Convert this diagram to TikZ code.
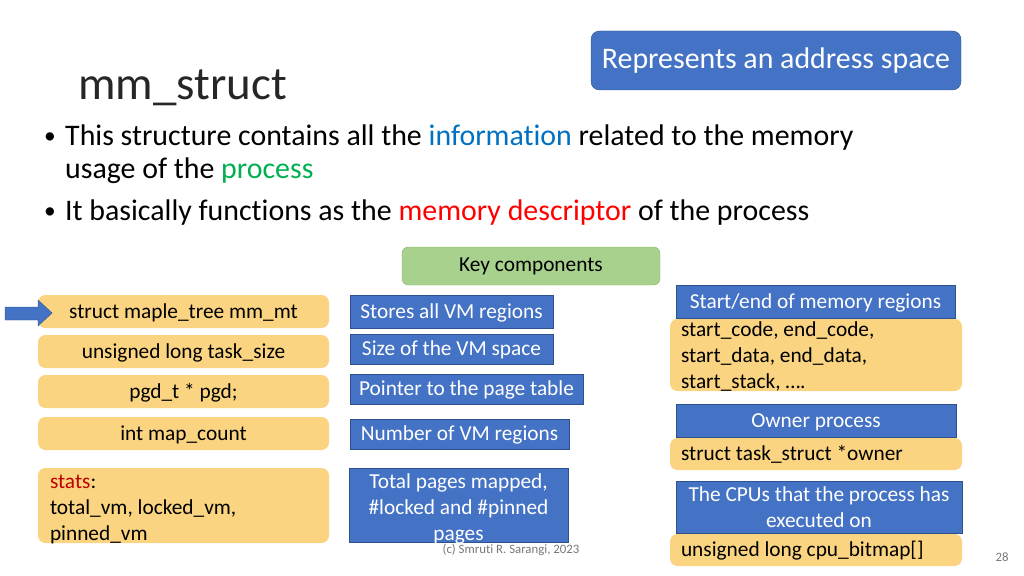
\documentclass[tikz,border=0pt]{standalone}
\usepackage{fontspec}
\setmainfont{Carlito}[Ligatures=NoCommon]
\usepackage{tikz}
\frenchspacing
\definecolor{fieldfill}{RGB}{250,212,128}
\definecolor{noteblue}{RGB}{68,114,196}
\definecolor{noteedge}{RGB}{47,82,143}
\definecolor{keygreen}{RGB}{169,209,142}
\definecolor{keyedge}{RGB}{130,180,100}
\definecolor{infoblue}{RGB}{0,112,192}
\definecolor{procgreen}{RGB}{0,176,80}
\definecolor{statsred}{RGB}{192,0,0}
\definecolor{footgray}{RGB}{120,120,120}

\begin{document}
\begin{tikzpicture}[x=0.9375pt, y=-0.9375pt,
  dims/.style 2 args={minimum width=#1*0.9375pt, minimum height=#2*0.9375pt},
  oneline/.style={text height=16pt, text depth=3.5pt},
  field/.style={fill=fieldfill, rounded corners=7pt, inner sep=0pt, font=\fontsize{20}{24.4}\selectfont},
  note/.style={fill=noteblue, draw=noteedge, text=white, inner sep=0pt, align=center, font=\fontsize{20}{24.4}\selectfont},
  bullet/.style={anchor=base west, inner sep=0pt, align=flush left, font=\fontsize{28}{30}\selectfont}]

\useasboundingbox (0,0) rectangle (1024,576);

\node[anchor=base west, inner sep=0pt, font=\fontsize{44}{50}\selectfont, text=black!85] (title) at (78,100) {mm\_struct};

\node[fill=noteblue, draw=noteedge, rounded corners=8pt, text=white, inner sep=0pt, dims={370}{59}, font=\fontsize{28}{32}\selectfont] (addr) at (776,60.5) {Represents an address space};

\node[bullet, font=\fontsize{22}{24}\selectfont] (dot1) at (44,144) {•};
\node[bullet] (line1) at (65,178) {This structure contains all the \textcolor{infoblue}{information} related to the memory\\usage of the \textcolor{procgreen}{process}};
\node[bullet, font=\fontsize{22}{24}\selectfont] (dot2) at (44,218) {•};
\node[bullet] (line2) at (65,220) {It basically functions as the \textcolor{red}{memory descriptor} of the process};

\node[fill=keygreen, draw=keyedge, rounded corners=6pt, inner sep=0pt, dims={258}{38}, font=\fontsize{20}{24}\selectfont] (key) at (531,266) {Key components};

\node[field, oneline, dims={291}{33}] (maple) at (183.5,311.5) {struct maple\_tree mm\_mt};
\node[field, oneline, dims={291}{33}] (tasksize) at (183.5,351.5) {unsigned long task\_size};
\node[field, oneline, dims={291}{33}] (pgd) at (183.5,391.5) {pgd\_t * pgd;};
\node[field, oneline, dims={291}{33}] (mapcount) at (183.5,433.5) {int map\_count};
\node[field, dims={291}{75}, text width=267*0.9375pt, align=flush left, text height=17pt, text depth=49pt] (stats) at (183.5,505.5) {\textcolor{statsred}{stats}:\\total\_vm, locked\_vm,\\pinned\_vm};

\filldraw[fill=noteblue, draw=noteedge] (5,307) -- (38,307) -- (38,300) -- (52,313) -- (38,326) -- (38,320) -- (5,320) -- cycle;

\node[note, oneline, dims={203}{33}] (vmregions) at (451.5,311.5) {Stores all VM regions};
\node[note, oneline, dims={203}{30}] (vmspace) at (451.5,349) {Size of the VM space};
\node[note, oneline, dims={233}{30}] (pagetable) at (466.5,389) {Pointer to the page table};
\node[note, oneline, dims={219}{30}] (nregions) at (459.5,434) {Number of VM regions};
\node[note, dims={219}{74}, text depth=0pt] (pages) at (458.5,505) {\rule{0pt}{17pt}Total pages mapped,\\\#locked and \#pinned\\pages};

\node[note, oneline, dims={279}{33}] (startend) at (815.5,301.5) {Start/end of memory regions};
\node[field, dims={292}{72}, text width=270*0.9375pt, align=flush left, text height=16pt, text depth=50pt] (codes) at (816,355) {start\_code, end\_code,\\start\_data, end\_data,\\start\_stack, ….};
\node[note, oneline, dims={280}{33}] (owner) at (816,420.5) {Owner process};
\node[field, oneline, dims={292}{32}, text width=270*0.9375pt, align=flush left] (ownerptr) at (816,454) {struct task\_struct *owner};
\node[note, dims={286}{52}] (cpus) at (819,507) {The CPUs that the process has\\executed on};
\node[field, oneline, dims={292}{32}, text width=270*0.9375pt, align=flush left] (bitmap) at (816,550) {unsigned long cpu\_bitmap[]};

\node[text=footgray, font=\fontsize{12}{14}\selectfont] (credit) at (511,550) {(c) Smruti R. Sarangi, 2023};
\node[text=footgray, font=\fontsize{12}{14}\selectfont] (pageno) at (1002,557) {28};

\end{tikzpicture}
\end{document}
